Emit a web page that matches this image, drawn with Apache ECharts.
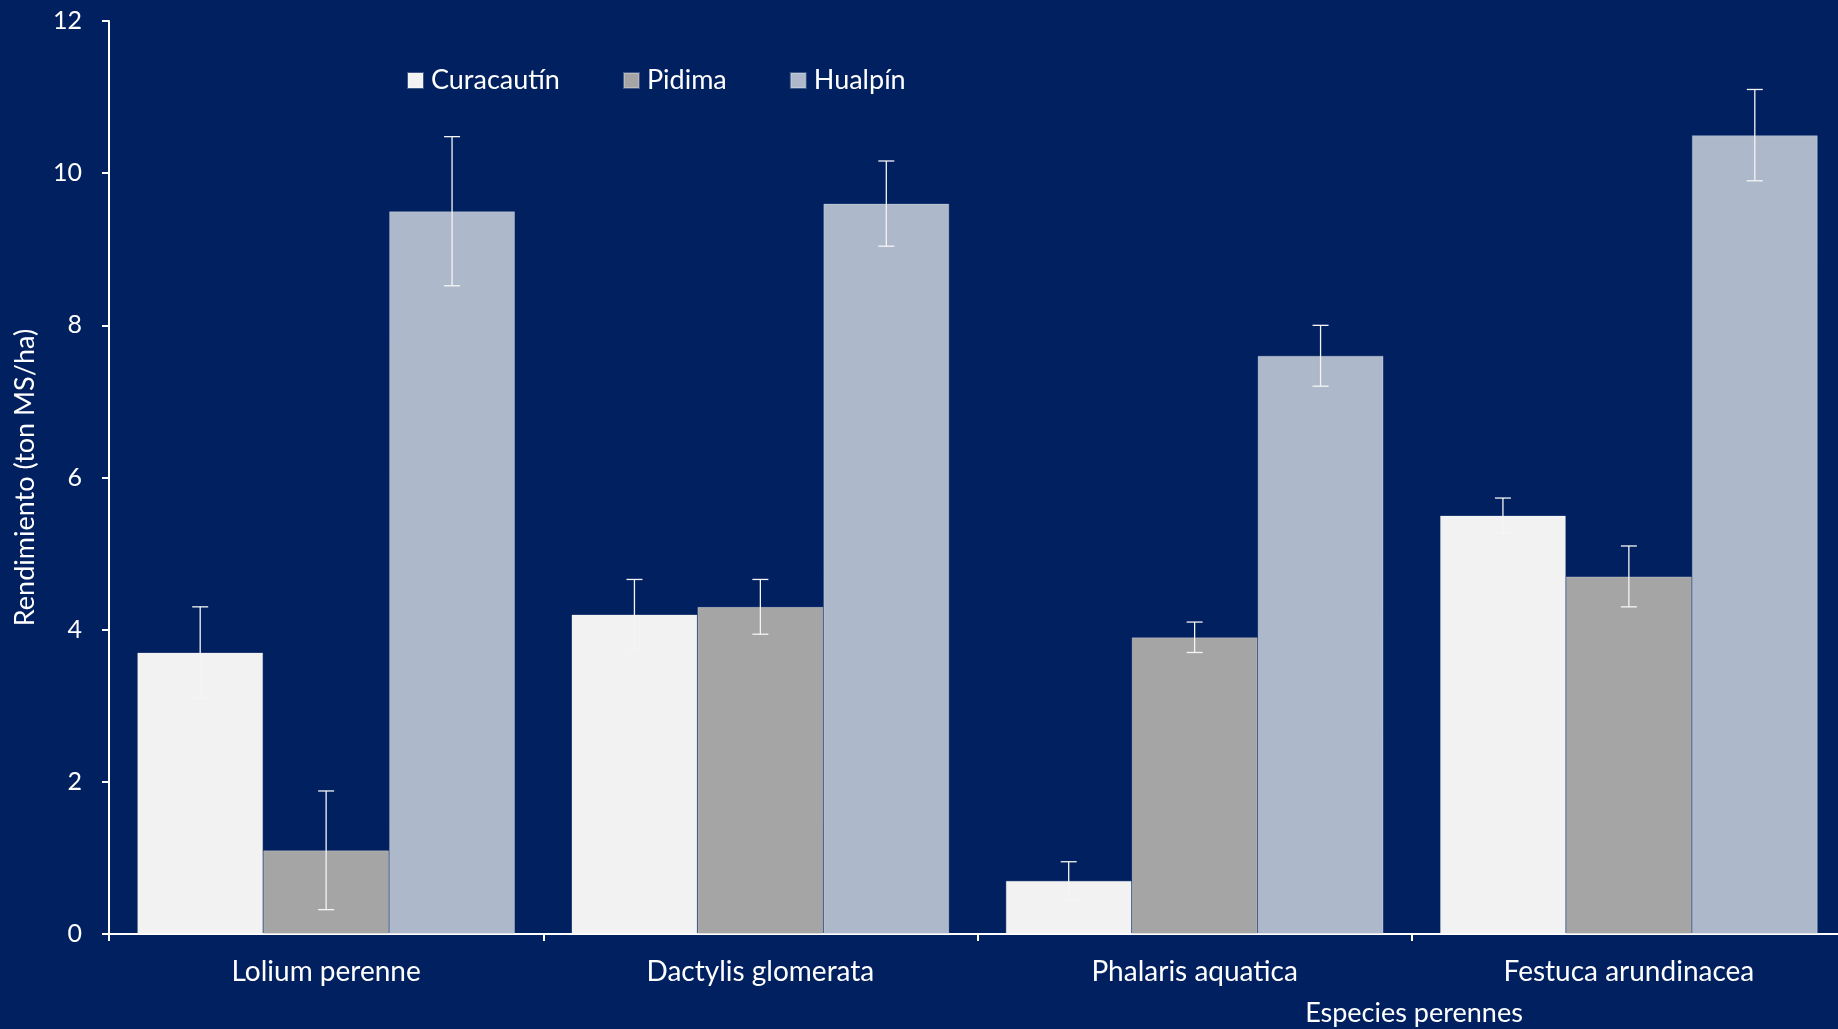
<!DOCTYPE html>
<html>
<head>
<meta charset="utf-8">
<script src="https://cdn.jsdelivr.net/npm/echarts@6/dist/echarts.min.js"></script>
<style>
html,body{margin:0;padding:0;background:#002060;overflow:hidden;width:1838px;height:1029px;}
#chart{width:1846px;height:1029px;}
</style>
</head>
<body>
<div id="chart"></div>
<script>
const categories = ['Lolium perenne', 'Dactylis glomerata', 'Phalaris aquatica', 'Festuca arundinacea'];
const seriesNames = ['Curacautín', 'Pidima', 'Hualpín'];
const curacautin = [3.7, 4.2, 0.7, 5.5];
const curacautinErr = [0.6, 0.46, 0.25, 0.23];
const pidima = [1.1, 4.3, 3.9, 4.7];
const pidimaErr = [0.78, 0.36, 0.2, 0.4];
const hualpin = [9.5, 9.6, 7.6, 10.5];
const hualpinErr = [0.98, 0.56, 0.4, 0.6];
const yTicks = [0, 2, 4, 6, 8, 10, 12];

const FONT = 'Lato';
const colors = ['#F2F2F2', '#A5A5A5', '#ADB9CA'];
const catGap = 0.13;
const values = [curacautin, pidima, hualpin];
const errs = [curacautinErr, pidimaErr, hualpinErr];

const chart = echarts.init(document.getElementById('chart'));

function errSeries(idx) {
  return {
    type: 'custom',
    name: seriesNames[idx] + ' err',
    z: 10,
    silent: true,
    data: values[idx].map((v, i) => [i, v, errs[idx][i]]),
    renderItem: function (params, api) {
      const ci = api.value(0), v = api.value(1), e = api.value(2);
      const band = api.size([1, 0])[0];
      const bw = band * (1 - catGap) / 3;
      const center = api.coord([ci, v]);
      const x = center[0] + (idx - 1) * bw;
      const top = api.coord([ci, v + e])[1];
      const bot = api.coord([ci, v - e])[1];
      const cap = 8;
      const style = { stroke: '#F5F5F5', lineWidth: 1.3 };
      return {
        type: 'group',
        children: [
          { type: 'line', shape: { x1: x, y1: top, x2: x, y2: bot }, style: style },
          { type: 'line', shape: { x1: x - cap, y1: top, x2: x + cap, y2: top }, style: style },
          { type: 'line', shape: { x1: x - cap, y1: bot, x2: x + cap, y2: bot }, style: style }
        ]
      };
    }
  };
}

const option = {
  backgroundColor: '#002060',
  animation: false,
  textStyle: { fontFamily: FONT },
  grid: { left: 109, top: 21, bottom: 95, right: 0, containLabel: false },
  legend: {
    data: seriesNames,
    left: 402,
    top: 62,
    itemWidth: 15,
    itemHeight: 15,
    itemGap: 63,
    icon: 'rect',
    textStyle: { color: '#FFFFFF', fontSize: 27, fontFamily: FONT, padding: [0, 0, 0, 3] }
  },
  xAxis: {
    type: 'category',
    data: categories,
    axisLine: { lineStyle: { color: '#FFFFFF', width: 2 } },
    axisTick: { show: true, length: 7, lineStyle: { color: '#FFFFFF', width: 2 } },
    axisLabel: { color: '#FFFFFF', fontSize: 28, margin: 24, fontFamily: FONT },
    splitLine: { show: false }
  },
  yAxis: {
    type: 'value',
    min: yTicks[0],
    max: yTicks[yTicks.length - 1],
    interval: yTicks[1] - yTicks[0],
    name: 'Rendimiento (ton MS/ha)',
    nameLocation: 'middle',
    nameGap: 70,
    nameTextStyle: { color: '#FFFFFF', fontSize: 27, fontFamily: FONT },
    axisLine: { show: true, lineStyle: { color: '#FFFFFF', width: 2 } },
    axisTick: { show: true, length: 7, lineStyle: { color: '#FFFFFF', width: 2 } },
    axisLabel: { color: '#FFFFFF', fontSize: 25, margin: 27, fontFamily: FONT },
    splitLine: { show: false }
  },
  graphic: [{
    type: 'text',
    x: 1414,
    y: 1013,
    style: { text: 'Especies perennes', fill: '#FFFFFF', font: '27px ' + FONT, align: 'center', verticalAlign: 'middle' }
  }],
  series: [
    ...seriesNames.map((n, i) => ({
      type: 'bar',
      name: n,
      data: values[i],
      barGap: '0%',
      barCategoryGap: (catGap * 100) + '%',
      itemStyle: { color: colors[i], borderColor: 'rgba(255,255,255,0.25)', borderWidth: 1 }
    })),
    errSeries(0), errSeries(1), errSeries(2)
  ]
};
chart.setOption(option);
</script>
</body>
</html>
